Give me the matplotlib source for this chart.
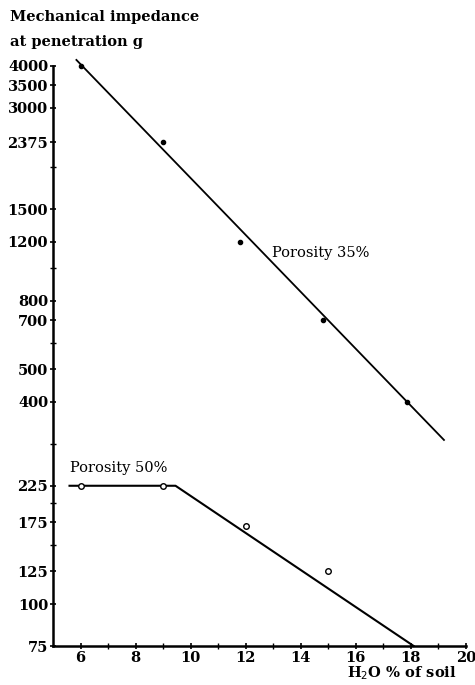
import matplotlib
matplotlib.use("Agg")
import matplotlib.pyplot as plt
from matplotlib.ticker import FixedLocator, NullFormatter

# Data
x35_pts = [6, 9, 11.8, 14.8, 17.85]
y35_pts = [4000, 2375, 1200, 700, 400]
x35_line = [5.85, 19.2]
y35_line = [4170, 308]

x50_pts = [6, 9, 12, 15]
y50_pts = [225, 225, 171, 125]
x50_line = [5.6, 9.45, 18.1]
y50_line = [225, 225, 75]

ytick_vals = [4000, 3500, 3000, 2375, 1500, 1200, 800, 700, 500, 400, 225, 175, 125, 100, 75]
xtick_vals = [6, 8, 10, 12, 14, 16, 18, 20]
xminor_vals = [7, 9, 11, 13, 15, 17, 19]
yminor_vals = [200, 150, 300, 2000, 1000, 600]

plt.rcParams['font.family'] = ['DejaVu Serif']
fig = plt.figure(figsize=(4.75, 6.85), dpi=100)
ax = fig.add_axes([53/475, 1-646/685, (466-53)/475, (646-66)/685])

ax.set_yscale('log')
ax.set_xlim(5, 20)
ax.set_ylim(75, 4000)

ax.plot(x35_line, y35_line, color='black', lw=1.3, clip_on=False)
ax.plot(x35_pts, y35_pts, 'o', color='black', ms=3, clip_on=False)
ax.plot(x50_line, y50_line, color='black', lw=1.5, clip_on=False)
ax.plot(x50_pts, y50_pts, 'o', mfc='white', mec='black', mew=1.0, ms=4, clip_on=False)

ax.yaxis.set_major_locator(FixedLocator(ytick_vals))
ax.yaxis.set_minor_locator(FixedLocator(yminor_vals))
ax.set_yticklabels([str(v) for v in ytick_vals])
ax.yaxis.set_minor_formatter(NullFormatter())
ax.xaxis.set_major_locator(FixedLocator(xtick_vals))
ax.xaxis.set_minor_locator(FixedLocator(xminor_vals))
ax.set_xticklabels([str(v) for v in xtick_vals])

for s in ['top', 'right']:
    ax.spines[s].set_visible(False)
for s in ['left', 'bottom']:
    ax.spines[s].set_linewidth(1.8)

ax.tick_params(axis='both', which='major', direction='inout', length=5, width=1.2,
               labelsize=10.5, pad=1)
ax.tick_params(axis='both', which='minor', direction='inout', length=4, width=1.0)
for lab in ax.get_xticklabels() + ax.get_yticklabels():
    lab.set_fontweight('bold')

fig.text(10/475, 1-17/685, 'Mechanical impedance', fontsize=10.5, fontweight='bold', va='center', ha='left')
fig.text(10/475, 1-42/685, 'at penetration g', fontsize=10.5, fontweight='bold', va='center', ha='left')
ax.text(12.95, 1110, 'Porosity 35%', fontsize=10.5, va='center', ha='left')
ax.text(5.6, 255, 'Porosity 50%', fontsize=10.5, va='center', ha='left')
fig.text(457/475, 1-673/685, 'H$_2$O % of soil', fontsize=10.5, fontweight='bold', va='center', ha='right')

fig.savefig('out.png', dpi=100)
